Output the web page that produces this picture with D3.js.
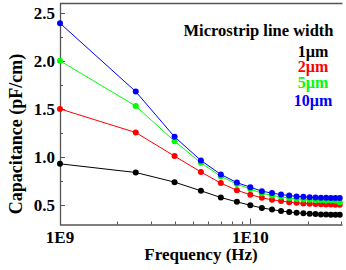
<!DOCTYPE html>
<html>
<head>
<meta charset="utf-8">
<script src="https://cdn.jsdelivr.net/npm/d3@7"></script>
<style>
  body { margin: 0; background: #fff; }
  text { font-family: "Liberation Serif", "Times New Roman", serif; font-weight: bold; }
</style>
</head>
<body>
<div id="chart"></div>
<script>
// frequencies in GHz
var freqs = [1, 2.5, 4, 5.5, 7, 8.5, 10, 11.5, 13, 14.5, 16, 17.5, 19, 20.5, 22, 23.5, 25, 26.5, 28, 29.5];
var widths = ["1\u00b5m", "2\u00b5m", "5\u00b5m", "10\u00b5m"];
var cap1 = [0.93, 0.84, 0.74, 0.65, 0.58, 0.535, 0.50, 0.472, 0.455, 0.44, 0.43, 0.422, 0.416, 0.412, 0.408, 0.405, 0.403, 0.402, 0.401, 0.40];
var cap2 = [1.50, 1.255, 1.01, 0.845, 0.73, 0.655, 0.61, 0.577, 0.557, 0.543, 0.532, 0.525, 0.519, 0.515, 0.512, 0.51, 0.508, 0.507, 0.506, 0.505];
var cap5 = [2.00, 1.53, 1.165, 0.94, 0.80, 0.72, 0.668, 0.625, 0.602, 0.587, 0.575, 0.566, 0.56, 0.556, 0.553, 0.551, 0.549, 0.548, 0.546, 0.53];
var cap10 = [2.39, 1.68, 1.21, 0.965, 0.82, 0.735, 0.687, 0.646, 0.626, 0.611, 0.6, 0.592, 0.587, 0.583, 0.58, 0.578, 0.577, 0.576, 0.575, 0.575];
var colors = ["#000000", "#ff0000", "#00ff00", "#0000ff"];
var yTicks = [0.5, 1.0, 1.5, 2.0, 2.5];
var xTickLabels = ["1E9", "1E10"];

var series = [cap1, cap2, cap5, cap10];

var W = 346, H = 270;
var mLeft = 60, mRight = 342.5, mTop = 3, mBottom = 224.5;

var svg = d3.select("#chart").append("svg")
    .attr("width", W)
    .attr("height", H);

var x = d3.scaleLog()
    .domain([1e9, 3.05e10])
    .range([mLeft, mRight]);

var y = d3.scaleLinear()
    .domain([0.3, 2.6])
    .range([mBottom, mTop]);

var axisColor = "#555";

// minor y ticks (every 0.25)
var yMinor = d3.range(0.5, 2.51, 0.25);
svg.selectAll(".ytick").data(yMinor).enter().append("line")
    .attr("x1", mLeft)
    .attr("x2", function(d) { return Math.abs(d * 2 - Math.round(d * 2)) < 1e-6 ? mLeft + 5 : mLeft + 3; })
    .attr("y1", function(d) { return Math.round(y(d)) + 0.5; })
    .attr("y2", function(d) { return Math.round(y(d)) + 0.5; })
    .attr("stroke", axisColor)
    .attr("stroke-width", 1);

svg.selectAll(".ylab").data(yTicks).enter().append("text")
    .attr("x", mLeft - 5)
    .attr("y", function(d) { return y(d); })
    .attr("dy", "0.35em")
    .attr("text-anchor", "end")
    .attr("font-size", 17)
    .text(function(d) { return d.toFixed(1); });

// x ticks: every integer multiple per decade
var xMinor = [];
[1e9, 1e10].forEach(function(dec) {
    for (var k = 1; k <= 9; k++) {
        if (dec * k <= 3.05e10) xMinor.push(dec * k);
    }
});
svg.selectAll(".xtick").data(xMinor).enter().append("line")
    .attr("x1", function(d) { return Math.round(x(d)) + 0.5; })
    .attr("x2", function(d) { return Math.round(x(d)) + 0.5; })
    .attr("y1", mBottom)
    .attr("y2", function(d) { return (d === 1e9 || d === 1e10) ? mBottom - 6 : mBottom - 3; })
    .attr("stroke", axisColor)
    .attr("stroke-width", 1);

svg.selectAll(".xlab").data([1e9, 1e10]).enter().append("text")
    .attr("x", function(d) { return x(d); })
    .attr("y", 243)
    .attr("text-anchor", "middle")
    .attr("font-size", 17)
    .text(function(d, i) { return xTickLabels[i]; });

// frame: left, bottom and top
svg.append("path")
    .attr("d", "M" + mRight + "," + (mTop + 0.5) + "H" + (mLeft + 0.5) + "V" + (mBottom + 0.5) + "H" + mRight)
    .attr("fill", "none")
    .attr("stroke", axisColor)
    .attr("stroke-width", 1.3);

// series
var line = d3.line()
    .x(function(d, i) { return x(freqs[i] * 1e9); })
    .y(function(d) { return y(d); });

series.forEach(function(vals, s) {
    svg.append("path")
        .datum(vals)
        .attr("d", line)
        .attr("fill", "none")
        .attr("stroke", colors[s])
        .attr("stroke-width", 1);

    svg.selectAll(".pt" + s).data(vals).enter().append("circle")
        .attr("cx", function(d, i) { return x(freqs[i] * 1e9); })
        .attr("cy", function(d) { return y(d); })
        .attr("r", 3)
        .attr("fill", colors[s]);
});

// axis titles
svg.append("text")
    .attr("transform", "translate(22,134) rotate(-90)")
    .attr("text-anchor", "middle")
    .attr("font-size", 18)
    .text("Capacitance (pF/cm)");

svg.append("text")
    .attr("x", 201)
    .attr("y", 260)
    .attr("text-anchor", "middle")
    .attr("font-size", 17)
    .text("Frequency (Hz)");

// legend
svg.append("text")
    .attr("x", 258.5)
    .attr("y", 36)
    .attr("text-anchor", "middle")
    .attr("font-size", 16.5)
    .text("Microstrip line width");

var legendY = [57, 72, 88, 106];
widths.forEach(function(w, i) {
    svg.append("text")
        .attr("x", 313)
        .attr("y", legendY[i])
        .attr("text-anchor", "middle")
        .attr("font-size", 16)
        .attr("fill", colors[i])
        .text(w);
});
</script>
</body>
</html>
